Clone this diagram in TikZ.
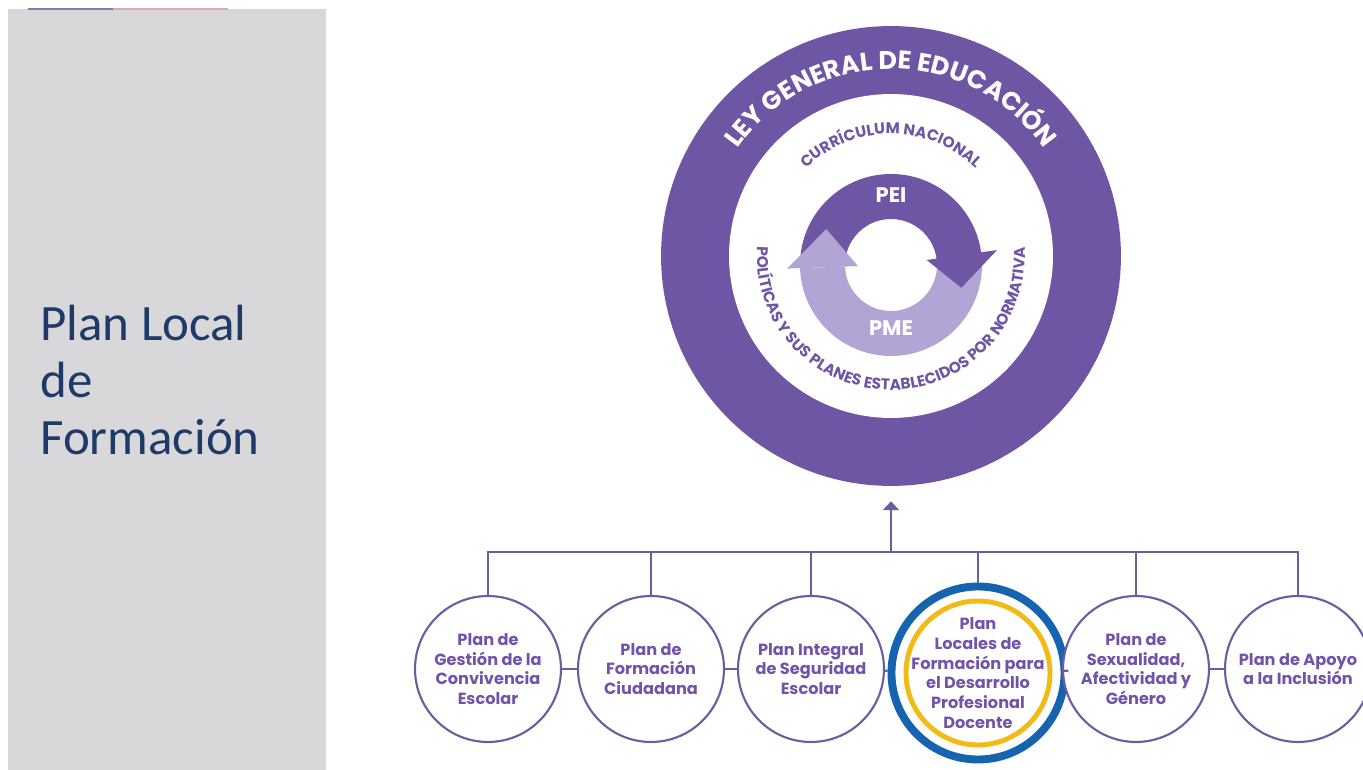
\documentclass[tikz,border=0pt]{standalone}
\usepackage{fontspec}
\newfontfamily\popfont{Poppins}
\newfontfamily\calfont{Carlito}
\usetikzlibrary{positioning,arrows.meta,decorations.text}
\definecolor{leypurple}{RGB}{111,86,165}
\definecolor{pmelight}{RGB}{178,165,214}
\definecolor{plantext}{RGB}{113,84,170}
\definecolor{planline}{RGB}{108,92,160}
\definecolor{panelgrey}{RGB}{216,216,218}
\definecolor{titleblue}{RGB}{31,58,104}
\definecolor{stripblue}{RGB}{120,130,160}
\definecolor{strippink}{RGB}{228,170,170}
\definecolor{docblue}{RGB}{22,100,175}
\definecolor{docyellow}{RGB}{242,186,20}

\begin{document}
\begin{tikzpicture}[x=0.02cm,y=0.02cm,
    plan/.style={circle,draw=planline,line width=1.2pt,fill=white,minimum size=2.92cm,
      inner sep=0pt,align=center,text=plantext,font=\popfont\bfseries\fontsize{9.2}{11.2}\selectfont},
    conn/.style={draw=planline,line width=1.3pt}]
\useasboundingbox (0,0) rectangle (1363,770);
% side panel
\fill[panelgrey] (8,0) rectangle (326,761);
\fill[stripblue] (28,760) rectangle (113,762);
\fill[strippink] (113,760) rectangle (228,762);
\node[anchor=north west,inner sep=0pt,align=left,text=titleblue,
  font=\calfont\fontsize{29}{32.4}\selectfont] (titulo) at (40,465) {Plan Local\\de\\Formación};

% big ring
\node[circle,fill=leypurple,minimum size=9.2cm,inner sep=0pt] (ley) at (891,514) {};
\node[circle,fill=white,minimum size=6.48cm,inner sep=0pt] (curriculum) at (ley) {};
\path[decorate,decoration={text along path,text align=center,
  text={|\popfont\bfseries\fontsize{14.5}{16}\selectfont\color{white}|LEY GENERAL DE EDUCACIÓN}}]
  ([shift={(170:187)}]ley.center) arc (170:10:187);
\path[decorate,decoration={text along path,text align=center,
  text={|\popfont\bfseries\fontsize{8.8}{10}\selectfont\color{leypurple}|CURRÍCULUM NACIONAL}}]
  ([shift={(170:122)}]ley.center) arc (170:10:122);
\path[decorate,decoration={text along path,text align=center,
  text={|\popfont\bfseries\fontsize{8.8}{10}\selectfont\color{leypurple}|POLÍTICAS Y SUS PLANES ESTABLECIDOS POR NORMATIVA}}]
  ([shift={(170:134)}]ley.center) arc (170:370:134);

% cycle PEI / PME
\begin{scope}[shift={(891,505)}]
  \fill[pmelight] (8:91) arc (8:-178:91) -- (-178:46) arc (-178:8:46) -- cycle;
  \fill[leypurple] (180:91) arc (180:8:91) -- (8:107) -- (-18:74) -- (8:36) -- (8:46)
    arc (8:180:46) -- cycle;
  \fill[pmelight] (-178:104) -- (151:74) -- (-178:33) -- cycle;
\end{scope}
\node[text=white,font=\popfont\bfseries\fontsize{12}{14}\selectfont] (pei) at (891,575) {PEI};
\node[text=white,font=\popfont\bfseries\fontsize{12}{14}\selectfont] (pme) at (891,442) {PME};

% plans
\node[plan] (gestion) at (488,101) {Plan de\\Gestión de la\\Convivencia\\Escolar};
\node[plan] (ciudadana) at (651,101) {Plan de\\Formación\\Ciudadana};
\node[plan] (seguridad) at (811,101) {Plan Integral\\de Seguridad\\Escolar};
\node[plan,draw=docblue,line width=4.5pt,minimum size=3.16cm] (locales) at (978,97)
  {Plan\\Locales de\\Formación para\\el Desarrollo\\Profesional\\Docente};
\draw[docyellow,line width=2.8pt] (locales.center) circle (72);
\node[plan] (sexualidad) at (1136,101) {Plan de\\Sexualidad,\\Afectividad y\\Género};
\node[plan] (apoyo) at (1298,101) {Plan de Apoyo\\a la Inclusión};

\coordinate (bus) at (891,218);
\draw[conn] (gestion.north) -- (gestion.north |- bus) -- (apoyo.north |- bus) -- (apoyo.north);
\foreach \n in {ciudadana,seguridad,locales,sexualidad}
  \draw[conn] (\n.north) -- (\n.north |- bus);
\foreach \a/\b in {gestion/ciudadana,ciudadana/seguridad,seguridad/locales,locales/sexualidad,sexualidad/apoyo}
  \draw[conn] (\a) -- (\b);
\draw[conn,-{Triangle[width=9pt,length=5pt]}] (bus) -- ([yshift=-0.3cm]ley.south);
\end{tikzpicture}
\end{document}
